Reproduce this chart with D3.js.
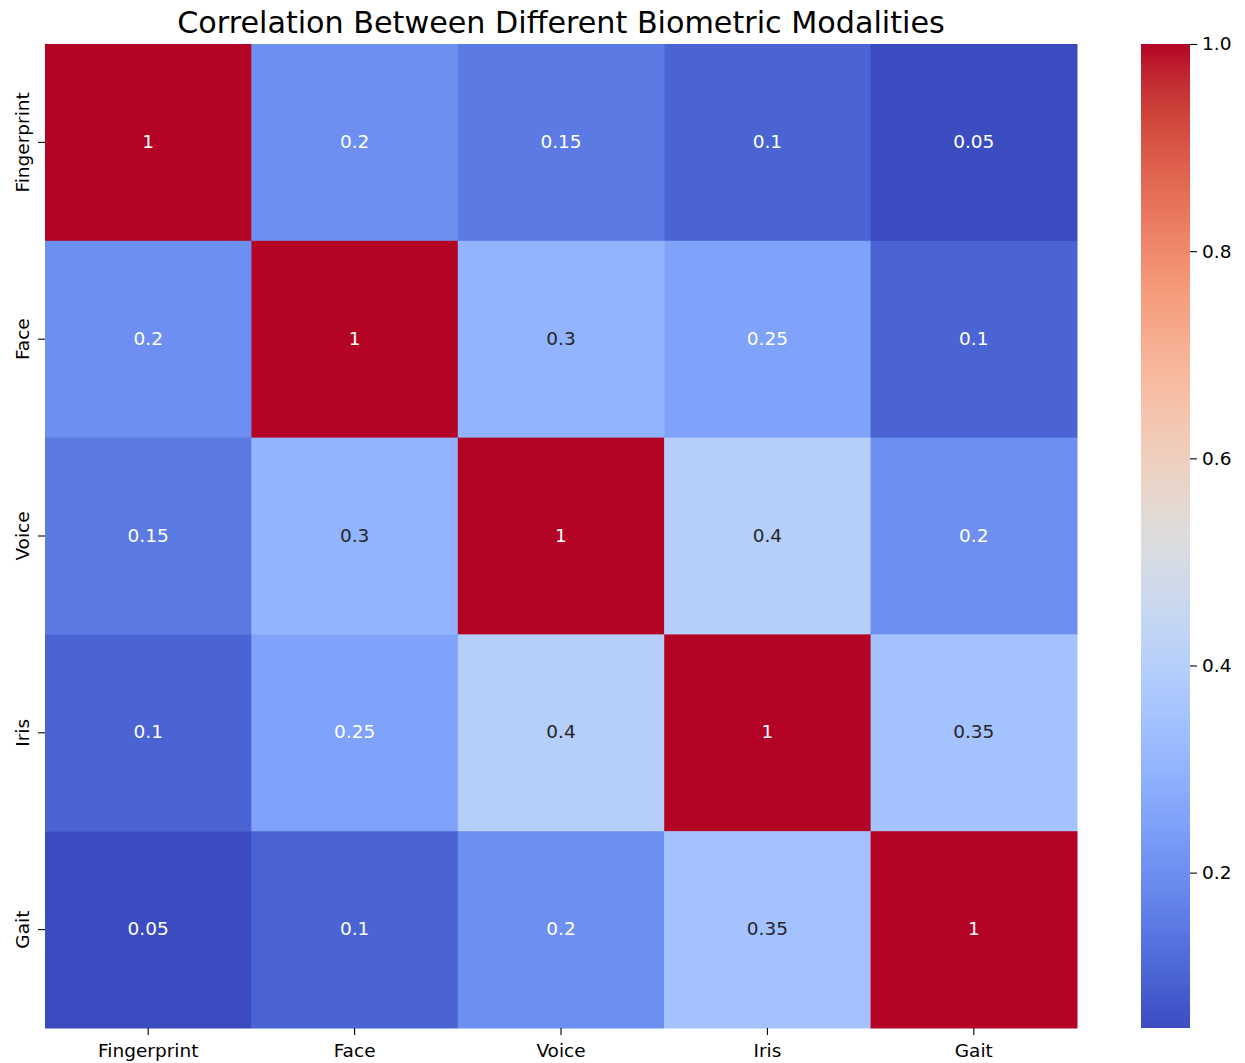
<!DOCTYPE html>
<html>
<head>
<meta charset="utf-8">
<script src="https://cdn.jsdelivr.net/npm/d3@7"></script>
<style>
  body { margin: 0; background: #fff; }
  text { font-family: "DejaVu Sans", sans-serif; }
</style>
</head>
<body>
<svg id="chart" width="1245" height="1063"></svg>
<script>
const modalities = ["Fingerprint", "Face", "Voice", "Iris", "Gait"];
const corrValues = [
  [1, 0.2, 0.15, 0.1, 0.05],
  [0.2, 1, 0.3, 0.25, 0.1],
  [0.15, 0.3, 1, 0.4, 0.2],
  [0.1, 0.25, 0.4, 1, 0.35],
  [0.05, 0.1, 0.2, 0.35, 1]
];
const colorbarTicks = [0.2, 0.4, 0.6, 0.8, 1.0];

// matplotlib / Moreland coolwarm control points
const coolwarm = [
  [59,76,192],[68,90,204],[77,104,215],[87,117,225],[98,130,234],[108,142,241],
  [119,154,247],[130,165,251],[141,176,254],[152,185,255],[163,194,255],[174,201,253],
  [184,208,249],[194,213,244],[204,217,238],[213,219,230],[221,221,221],[229,216,209],
  [236,211,197],[241,204,185],[245,196,173],[247,187,160],[247,177,148],[247,166,135],
  [244,154,123],[241,141,111],[236,127,99],[229,112,88],[222,96,77],[213,80,66],
  [203,62,56],[192,40,47],[180,4,38]
].map(c => `rgb(${c[0]},${c[1]},${c[2]})`);
const interp = d3.interpolateRgbBasis(coolwarm);

(function () {
  const svg = d3.select("#chart"),
    margin = { top: 44, left: 45 },
    width = 1032,
    height = 984;

  const vmin = d3.min(corrValues.flat()), vmax = d3.max(corrValues.flat());
  const color = v => interp((v - vmin) / (vmax - vmin));

  const chart = svg.append("g").attr("transform", `translate(${margin.left},${margin.top})`);

  const x = d3.scaleBand().domain(modalities).range([0, width]);
  const y = d3.scaleBand().domain(modalities).range([0, height]);

  const cells = [];
  corrValues.forEach((row, i) => row.forEach((v, j) => cells.push({ r: modalities[i], c: modalities[j], v })));

  chart.selectAll("rect.cell")
    .data(cells)
    .enter().append("rect")
    .attr("class", "cell")
    .attr("x", d => x(d.c))
    .attr("y", d => y(d.r))
    .attr("width", x.bandwidth() + 0.5)
    .attr("height", y.bandwidth() + 0.5)
    .attr("fill", d => color(d.v));

  const lum = c => {
    const rgb = d3.rgb(c);
    const f = u => { u /= 255; return u <= 0.03928 ? u / 12.92 : Math.pow((u + 0.055) / 1.055, 2.4); };
    return 0.2126 * f(rgb.r) + 0.7152 * f(rgb.g) + 0.0722 * f(rgb.b);
  };

  chart.selectAll("text.annot")
    .data(cells)
    .enter().append("text")
    .attr("class", "annot")
    .attr("x", d => x(d.c) + x.bandwidth() / 2)
    .attr("y", d => y(d.r) + y.bandwidth() / 2)
    .attr("dy", "0.3em")
    .attr("text-anchor", "middle")
    .style("font-size", "18.5px")
    .attr("fill", d => lum(color(d.v)) > 0.408 ? "#262626" : "#fff")
    .text(d => d3.format("")(d.v));

  const xAxis = chart.append("g")
    .attr("transform", `translate(0,${height})`)
    .call(d3.axisBottom(x).tickSize(7).tickPadding(9));
  const yAxis = chart.append("g")
    .call(d3.axisLeft(y).tickSize(7).tickPadding(5));
  [xAxis, yAxis].forEach(a => {
    a.select(".domain").remove();
    a.selectAll("text").style("font-size", "18.5px").attr("fill", "#000")
      .style("font-family", "DejaVu Sans, sans-serif");
    a.selectAll("line").attr("stroke", "#000").attr("stroke-width", 1.1);
  });
  yAxis.selectAll("text")
    .attr("text-anchor", "middle")
    .attr("dy", "0")
    .attr("x", 0)
    .attr("transform", "translate(-16,0) rotate(-90)");

  // colorbar
  const cbX = 1141, cbW = 49;
  const cy = d3.scaleLinear().domain([vmin, vmax]).range([margin.top + height, margin.top]);
  const grad = svg.append("defs").append("linearGradient")
    .attr("id", "cw").attr("x1", 0).attr("y1", 1).attr("x2", 0).attr("y2", 0);
  d3.range(0, 1.0001, 0.02).forEach(t => {
    grad.append("stop").attr("offset", t).attr("stop-color", interp(t));
  });
  svg.append("rect")
    .attr("x", cbX).attr("y", margin.top)
    .attr("width", cbW).attr("height", height)
    .attr("fill", "url(#cw)");

  const cbAxis = svg.append("g")
    .attr("transform", `translate(${cbX + cbW},0)`)
    .call(d3.axisRight(cy).tickValues(colorbarTicks).tickFormat(d3.format(".1f")).tickSize(7).tickPadding(5));
  cbAxis.select(".domain").remove();
  cbAxis.selectAll("text").style("font-size", "18.5px").attr("fill", "#000")
    .style("font-family", "DejaVu Sans, sans-serif");
  cbAxis.selectAll("line").attr("stroke", "#000").attr("stroke-width", 1.1);

  svg.append("text")
    .attr("x", margin.left + width / 2)
    .attr("y", 33)
    .attr("text-anchor", "middle")
    .style("font-size", "30.2px")
    .attr("fill", "#000")
    .text("Correlation Between Different Biometric Modalities");
})();
</script>
</body>
</html>
